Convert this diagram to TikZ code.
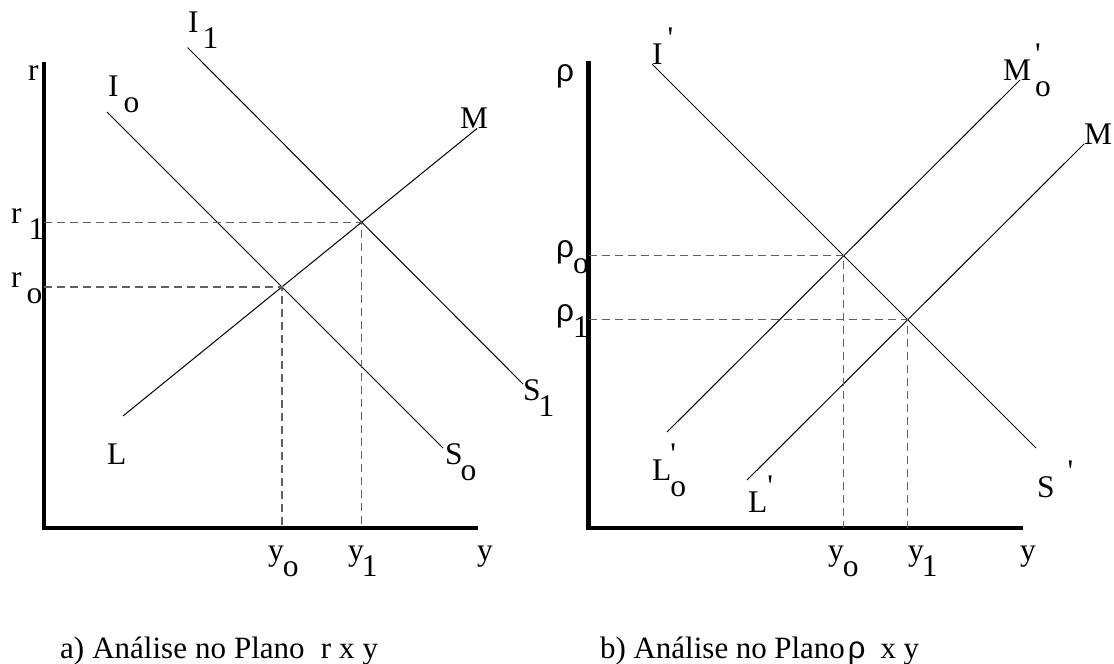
\documentclass[tikz,border=0pt]{standalone}
\usepackage{fontspec}
\setmainfont{Liberation Serif}
\newfontfamily\rhofont{Liberation Sans}
\usetikzlibrary{intersections}
\newcommand{\sbx}[1]{\raisebox{-16pt}{#1}}
\newcommand{\spx}{\raisebox{16pt}{\textquotesingle}}
\newcommand{\rh}{{\rhofont ρ}}
\tikzset{
  axisline/.style={line width=4.6pt, line join=miter, black},
  curve/.style={line width=1pt, black},
  guide/.style={line width=1.3pt, color=black!62, dash pattern=on 8pt off 5pt},
  lbl/.style={inner sep=0pt, anchor=base west, font=\fontsize{31.5}{31.5}\selectfont},
  captxt/.style={inner sep=0pt, anchor=base west, font=\fontsize{31}{31}\selectfont}
}
\begin{document}
\begin{tikzpicture}[x=1pt,y=-1pt]
\useasboundingbox (0,0) rectangle (1114,664);
% ---------- left panel ----------
\coordinate (LT) at (44,62);
\coordinate (LO) at (44,528);
\coordinate (LR) at (478,528);
\draw[axisline] (LT) -- (LO) -- (LR);
\coordinate (I0a) at (107,112);   \coordinate (I0b) at (443,448);
\coordinate (I1a) at (187.5,47.5); \coordinate (I1b) at (523,384);
\coordinate (LMa) at (123,416);   \coordinate (LMb) at (477,128.5);
\draw[curve, name path=I0] (I0a) -- (I0b);
\draw[curve, name path=I1] (I1a) -- (I1b);
\draw[curve, name path=LM] (LMa) -- (LMb);
\path[name intersections={of=I0 and LM, by=E0}];
\path[name intersections={of=I1 and LM, by=E1}];
\draw[guide] (E0 -| LO) -- (E0) -- (E0 |- LO);
\draw[guide] (E1 -| LO) -- (E1) -- (E1 |- LO);
\node[lbl] (rlab) at (28,80) {r};
\node[lbl] (I1lab) at (188,32) {I\kern4pt\sbx{1}};
\node[lbl] (I0lab) at (108,96) {I\kern5pt\sbx{o}};
\node[lbl] (Mlab) at (460,128) {M};
\node[lbl] (r1lab) at (11,223) {r\kern7pt\sbx{1}};
\node[lbl] (r0lab) at (11,287) {r\kern5pt\sbx{o}};
\node[lbl] (S1lab) at (523,400) {S\kern-2pt\sbx{1}};
\node[lbl] (Llab) at (107,464) {L};
\node[lbl] (S0lab) at (445,464) {S\kern-2pt\sbx{o}};
\node[lbl] (y0lab) at (268,560) {y\kern-1pt\sbx{o}};
\node[lbl] (y1lab) at (348,560) {y\kern-2pt\sbx{1}};
\node[lbl] (ylab) at (477,560) {y};
% ---------- right panel ----------
\coordinate (RT) at (588.5,61);
\coordinate (RO) at (588.5,528);
\coordinate (RR) at (1023,528);
\draw[axisline] (RT) -- (RO) -- (RR);
\coordinate (IPa) at (652,64);   \coordinate (IPb) at (1036,448);
\coordinate (M0a) at (667,432);  \coordinate (M0b) at (1020,80);
\coordinate (M1a) at (747,480);  \coordinate (M1b) at (1084,144);
\draw[curve, name path=IP] (IPa) -- (IPb);
\draw[curve, name path=M0] (M0a) -- (M0b);
\draw[curve, name path=M1] (M1a) -- (M1b);
\path[name intersections={of=IP and M0, by=F0}];
\path[name intersections={of=IP and M1, by=F1}];
\draw[guide] (F0 -| RO) -- (F0) -- (F0 |- RO);
\draw[guide] (F1 -| RO) -- (F1) -- (F1 |- RO);
\node[lbl] (rholab) at (556,81) {\rh};
\node[lbl] (IPlab) at (652,64) {I\kern5pt\spx};
\node[lbl] (M0lab) at (1003,80) {M\kern4pt\rlap{\spx}\sbx{o}};
\node[lbl] (M1lab) at (1084,144) {M};
\node[lbl] (rho0lab) at (556,257) {\rh\kern-1pt\sbx{o}};
\node[lbl] (rho1lab) at (556,321) {\rh\kern-1pt\sbx{1}};
\node[lbl] (L0lab) at (652,480) {L\kern-1pt\rlap{\spx}\sbx{o}};
\node[lbl] (LPlab) at (748,512) {L\kern0pt\spx};
\node[lbl] (SPlab) at (1037,497) {S\kern13pt\spx};
\node[lbl] (y0rlab) at (828,560) {y\kern-1pt\sbx{o}};
\node[lbl] (y1rlab) at (908,560) {y\kern-2pt\sbx{1}};
\node[lbl] (yrlab) at (1020,560) {y};
% ---------- captions ----------
\node[captxt] (capa) at (60,658) {\makebox[318pt][s]{a) Análise no Plano\ \ r x y}};
\node[captxt] (capb) at (600,658) {\makebox[319pt][s]{b) Análise no Plano\kern3pt\rh\ \ x y}};
\end{tikzpicture}
\end{document}
